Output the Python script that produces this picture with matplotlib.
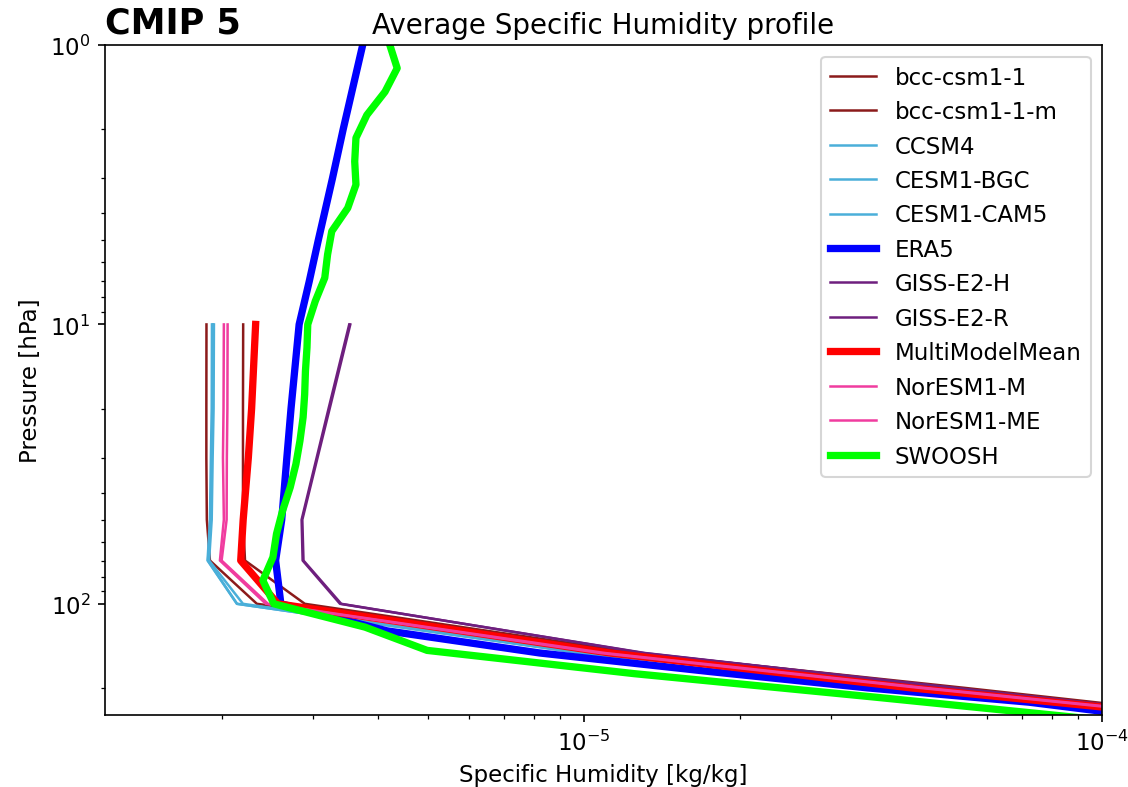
import matplotlib
matplotlib.use("Agg")
import matplotlib.pyplot as plt

OUT_FILE = "out.png"

# model pressure levels (hPa)
model_plev = [10, 20, 30, 50, 70, 100, 150, 200, 250]

bcc_csm1_1 = [1.868e-6, 1.867e-6, 1.867e-6, 1.871e-6, 1.897e-6, 2.337e-6, 1.200e-5, 5.09e-5, 1.545e-4]
bcc_csm1_1_m = [2.199e-6, 2.197e-6, 2.197e-6, 2.197e-6, 2.217e-6, 2.892e-6, 1.266e-5, 5.44e-5, 1.623e-4]
ccsm4 = [1.914e-6, 1.912e-6, 1.905e-6, 1.897e-6, 1.877e-6, 2.138e-6, 9.82e-6, 4.66e-5, 1.50e-4]
cesm1_bgc = [1.922e-6, 1.920e-6, 1.912e-6, 1.905e-6, 1.880e-6, 2.140e-6, 9.90e-6, 4.66e-5, 1.50e-4]
cesm1_cam5 = [1.931e-6, 1.928e-6, 1.920e-6, 1.912e-6, 1.890e-6, 2.197e-6, 1.00e-5, 4.70e-5, 1.51e-4]
giss_e2_h = [3.523e-6, 3.214e-6, 3.048e-6, 2.851e-6, 2.864e-6, 3.381e-6, 1.311e-5, 5.20e-5, 1.545e-4]
giss_e2_r = [3.540e-6, 3.230e-6, 3.060e-6, 2.860e-6, 2.875e-6, 3.400e-6, 1.300e-5, 5.15e-5, 1.54e-4]
mmm = [2.324e-6, 2.283e-6, 2.250e-6, 2.199e-6, 2.175e-6, 2.566e-6, 1.122e-5, 4.28e-5, 1.427e-4]
noresm1_m = [2.018e-6, 2.015e-6, 2.010e-6, 2.018e-6, 1.983e-6, 2.432e-6, 1.074e-5, 4.45e-5, 1.445e-4]
noresm1_me = [2.052e-6, 2.050e-6, 2.045e-6, 2.043e-6, 1.998e-6, 2.455e-6, 1.098e-5, 4.55e-5, 1.479e-4]

# ERA5
era5_plev = [1, 2, 3, 5, 7, 10, 20, 30, 50, 70, 100, 125, 150, 175, 200, 225, 250]
era5 = [3.74e-6, 3.43e-6, 3.27e-6, 3.07e-6, 2.95e-6, 2.82e-6, 2.72e-6, 2.67e-6, 2.61e-6,
        2.54e-6, 2.60e-6, 4.17e-6, 8.22e-6, 1.76e-5, 3.53e-5, 7.23e-5, 1.14e-4]

# SWOOSH
swoosh_plev = [1.0, 1.21, 1.47, 1.78, 2.15, 2.61, 3.16, 3.83, 4.64, 5.62, 6.81, 8.25, 10.0,
               12.1, 14.7, 17.8, 21.5, 26.1, 31.6, 38.3, 46.4, 56.2, 68.1, 82.5, 100.0,
               121.2, 146.8, 177.8, 215.4, 261.0]
swoosh = [4.22e-6, 4.36e-6, 4.13e-6, 3.81e-6, 3.63e-6, 3.61e-6, 3.63e-6, 3.50e-6, 3.26e-6,
          3.20e-6, 3.16e-6, 3.03e-6, 2.93e-6, 2.92e-6, 2.90e-6, 2.89e-6, 2.87e-6, 2.83e-6,
          2.78e-6, 2.71e-6, 2.62e-6, 2.55e-6, 2.51e-6, 2.40e-6, 2.52e-6, 3.78e-6, 4.98e-6,
          1.249e-5, 3.61e-5, 1.01e-4]

DARKRED = "#8b1a1a"
LIGHTBLUE = "#4aafd9"
PURPLE = "#6e1f7e"
PINK = "#f03c9f"


def main():
    plt.rcParams["font.size"] = 11
    fig = plt.figure(figsize=(7.52, 5.253), dpi=150)
    ax = fig.add_axes([0.0931, 0.0914, 0.8839, 0.8502])

    ax.plot(bcc_csm1_1, model_plev, color=DARKRED, lw=1.2, label="bcc-csm1-1")
    ax.plot(bcc_csm1_1_m, model_plev, color=DARKRED, lw=1.2, label="bcc-csm1-1-m")
    ax.plot(ccsm4, model_plev, color=LIGHTBLUE, lw=1.2, label="CCSM4")
    ax.plot(cesm1_bgc, model_plev, color=LIGHTBLUE, lw=1.2, label="CESM1-BGC")
    ax.plot(cesm1_cam5, model_plev, color=LIGHTBLUE, lw=1.2, label="CESM1-CAM5")
    ax.plot(era5, era5_plev, color="blue", lw=3.5, label="ERA5")
    ax.plot(giss_e2_h, model_plev, color=PURPLE, lw=1.2, label="GISS-E2-H")
    ax.plot(giss_e2_r, model_plev, color=PURPLE, lw=1.2, label="GISS-E2-R")
    ax.plot(mmm, model_plev, color="red", lw=3.5, label="MultiModelMean")
    ax.plot(noresm1_m, model_plev, color=PINK, lw=1.2, label="NorESM1-M")
    ax.plot(noresm1_me, model_plev, color=PINK, lw=1.2, label="NorESM1-ME")
    ax.plot(swoosh, swoosh_plev, color="lime", lw=3.5, label="SWOOSH")

    ax.set_xscale("log")
    ax.set_yscale("log")
    ax.set_xlim(1.19e-6, 1e-4)
    ax.set_ylim(250, 1)
    ax.set_xlabel("Specific Humidity [kg/kg]")
    ax.set_ylabel("Pressure [hPa]")
    ax.set_title("Average Specific Humidity profile", fontsize=13.3)
    ax.set_title("CMIP 5", loc="left", fontsize=16.8, fontweight="bold")
    ax.legend(loc="upper right")

    fig.savefig(OUT_FILE, dpi=150)


if __name__ == "__main__":
    main()
